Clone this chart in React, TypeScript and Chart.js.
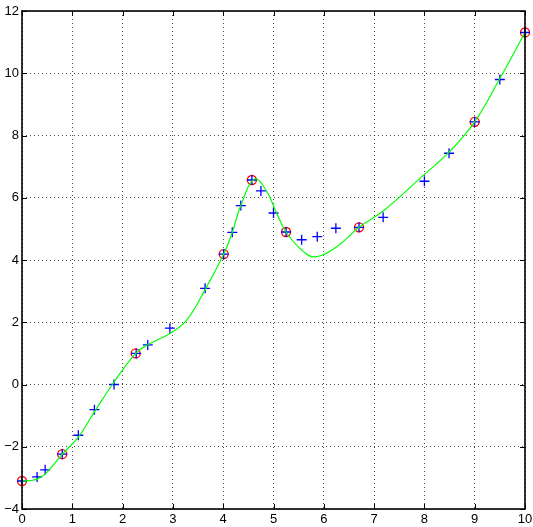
import React, { useEffect, useRef } from "react";
import { Chart, registerables } from "chart.js";

Chart.register(...registerables);

const knotX = [0, 0.8, 2.26, 4.01, 4.57, 5.25, 6.7, 9.0, 10];
const knotY = [-3.1, -2.24, 1.0, 4.19, 6.57, 4.9, 5.05, 8.44, 11.31];

const sampleX = [0, 0.3, 0.46, 0.8, 1.12, 1.44, 1.83, 2.27, 2.5, 2.94, 3.64, 4.01, 4.18, 4.35, 4.57, 4.75, 5.0, 5.25, 5.56, 5.87, 6.24, 6.7, 7.18, 8.0, 8.49, 9.0, 9.5, 10];
const sampleY = [-3.1, -2.97, -2.74, -2.24, -1.63, -0.81, 0.0, 1.0, 1.27, 1.81, 3.09, 4.19, 4.89, 5.75, 6.57, 6.22, 5.51, 4.9, 4.65, 4.75, 5.02, 5.05, 5.37, 6.53, 7.43, 8.44, 9.8, 11.31];

const curveX = [0, 0.15, 0.3, 0.46, 0.8, 1.12, 1.44, 1.83, 2.26, 2.5, 2.94, 3.27, 3.65, 4.01, 4.18, 4.35, 4.62, 4.85, 5.05, 5.25, 5.56, 5.82, 6.25, 6.7, 7.2, 8.0, 8.5, 9.0, 9.5, 10];
const curveY = [-3.1, -3.09, -3.04, -2.88, -2.24, -1.69, -0.88, 0.08, 1.0, 1.28, 1.64, 2.06, 3.08, 4.19, 4.89, 5.75, 6.6, 6.25, 5.55, 4.9, 4.32, 4.1, 4.42, 5.05, 5.6, 6.75, 7.48, 8.44, 9.83, 11.31];

const xTicks = [0, 1, 2, 3, 4, 5, 6, 7, 8, 9, 10];
const yTicks = [-4, -2, 0, 2, 4, 6, 8, 10, 12];

const toPts = (xs: number[], ys: number[]) => xs.map((x, i) => ({ x, y: ys[i] }));

const framePlugin = {
  id: "frame",
  afterDraw(chart: any) {
    const { ctx, chartArea: a, scales } = chart;
    ctx.save();
    ctx.strokeStyle = "#000";
    ctx.lineWidth = 1;
    const tl = 5;
    ctx.beginPath();
    xTicks.forEach((v) => {
      const px = Math.round(scales.x.getPixelForValue(v)) + 0.5;
      ctx.moveTo(px, a.bottom);
      ctx.lineTo(px, a.bottom - tl);
      ctx.moveTo(px, a.top);
      ctx.lineTo(px, a.top + tl);
    });
    yTicks.forEach((v) => {
      const py = Math.round(scales.y.getPixelForValue(v)) + 0.5;
      ctx.moveTo(a.left, py);
      ctx.lineTo(a.left + tl, py);
      ctx.moveTo(a.right, py);
      ctx.lineTo(a.right - tl, py);
    });
    ctx.stroke();
    ctx.lineWidth = 1.6;
    ctx.strokeRect(a.left, a.top, a.right - a.left, a.bottom - a.top);
    ctx.restore();
  },
};

export default function App() {
  const ref = useRef<HTMLCanvasElement | null>(null);
  useEffect(() => {
    if (!ref.current) return;
    const font = { family: "'Liberation Sans', Arial, sans-serif", size: 13 };
    const chart = new Chart(ref.current, {
      type: "scatter",
      data: {
        datasets: [
          {
            label: "curve",
            data: toPts(curveX, curveY),
            showLine: true,
            borderColor: "#00ff00",
            borderWidth: 1.2,
            pointRadius: 0,
            tension: 0.4,
            clip: false,
          } as any,
          {
            label: "samples",
            data: toPts(sampleX, sampleY),
            showLine: false,
            pointStyle: "cross",
            pointRadius: 5,
            borderColor: "#0000ff",
            borderWidth: 1.3,
            clip: false,
          } as any,
          {
            label: "knots",
            data: toPts(knotX, knotY),
            showLine: false,
            pointStyle: "circle",
            pointRadius: 4.5,
            borderColor: "#ff0000",
            backgroundColor: "rgba(0,0,0,0)",
            borderWidth: 1.3,
            clip: false,
          } as any,
        ],
      },
      options: {
        animation: false,
        responsive: false,
        devicePixelRatio: 1,
        layout: { padding: { top: 11, right: 8, left: 0, bottom: 0 } },
        plugins: { legend: { display: false }, tooltip: { enabled: false } },
        scales: {
          x: {
            type: "linear",
            min: 0,
            max: 10,
            afterBuildTicks: (s: any) => {
              s.ticks = xTicks.map((v) => ({ value: v }));
            },
            afterFit: (s: any) => {
              s.height = 18;
              s.paddingLeft = 0;
              s.paddingRight = 0;
            },
            ticks: { color: "#000", font, padding: 3, maxRotation: 0, autoSkip: false },
            grid: { color: "rgba(0,0,0,0.7)", drawTicks: false } as any,
            border: { display: false, dash: [1, 3] } as any,
          },
          y: {
            type: "linear",
            min: -4,
            max: 12,
            afterBuildTicks: (s: any) => {
              s.ticks = yTicks.map((v) => ({ value: v }));
            },
            afterFit: (s: any) => {
              s.width = 22;
              s.paddingTop = 0;
              s.paddingBottom = 0;
            },
            ticks: {
              color: "#000",
              font,
              padding: 3,
              autoSkip: false,
              callback: (v: any) => (Number(v) < 0 ? "\u2212" + Math.abs(Number(v)) : String(v)),
            },
            grid: { color: "rgba(0,0,0,0.7)", drawTicks: false } as any,
            border: { display: false, dash: [1, 3] } as any,
          },
        },
      },
      plugins: [framePlugin],
    } as any);
    return () => chart.destroy();
  }, []);
  return (
    <div style={{ position: "fixed", left: 0, top: 0, width: 533, height: 527, background: "#fff" }}>
      <canvas ref={ref} width={533} height={527} style={{ width: 533, height: 527, display: "block" }} />
    </div>
  );
}
